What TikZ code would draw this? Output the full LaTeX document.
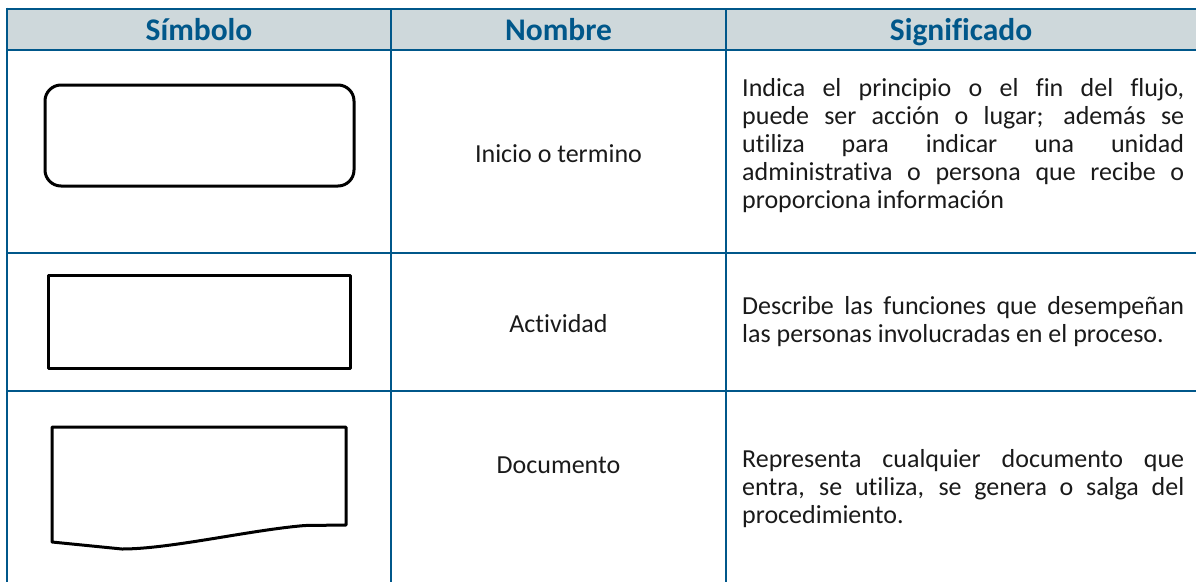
\documentclass[tikz,border=0pt]{standalone}
\usepackage{fontspec}
\setmainfont{Carlito}[Ligatures={NoCommon}]
\definecolor{tblue}{HTML}{00578A}
\definecolor{thead}{HTML}{CED8DB}
\definecolor{ttext}{HTML}{1A1A1A}
\newcommand{\nohyph}{\hyphenpenalty=10000\relax\exhyphenpenalty=10000\relax}
\tikzset{
  grid/.style={draw=tblue, line width=2.8pt},
  symb/.style={draw=black, line width=3pt, line join=round},
  headtxt/.style={font=\bfseries\fontsize{31.5}{34}\selectfont, text=tblue, inner sep=0pt, anchor=base},
  nametxt/.style={font=\fontsize{26}{28}\selectfont, text=ttext, inner sep=0pt, anchor=base},
  desctxt/.style={font=\fontsize{26}{28.2}\selectfont, text=ttext, inner sep=0pt, anchor=base west, text width=442pt, align=justify}
}
\begin{document}
\begin{tikzpicture}[x=1pt,y=-1pt]
\useasboundingbox (0,0) rectangle (1196,582);
\fill[thead] (7,9) rectangle (1196,50);
% grid lines
\draw[grid] (7,9) -- (1196,9);
\draw[grid] (7,50) -- (1196,50);
\draw[grid] (7,253) -- (1196,253);
\draw[grid] (7,391) -- (1196,391);
\draw[grid] (7,7.6) -- (7,582);
\draw[grid] (391,9) -- (391,582);
\draw[grid] (726,9) -- (726,582);
% headers
\node[headtxt] (h1) at (199,40.5) {Símbolo};
\node[headtxt] (h2) at (558.5,40.5) {Nombre};
\node[headtxt] (h3) at (961,40.5) {Significado};
% symbols
\draw[symb, rounded corners=16pt] (45,85) rectangle (354,186);
\draw[symb] (48,275) rectangle (350,368);
\draw[symb] (52,427) -- (346,427) -- (346,525) -- (305,525.5)
  .. controls (250,530) and (170,549) .. (122,549) -- (52,542) -- cycle;
% names
\node[nametxt] (n1) at (558.5,162) {Inicio o termino};
\node[nametxt] (n2) at (558.5,332.5) {Actividad};
\node[nametxt] (n3) at (558.5,473) {Documento};
% descriptions
\node[desctxt] (d1) at (742,96) {\nohyph Indica el principio o el fin del flujo,\linebreak puede ser acción o lugar; además se\linebreak utiliza para indicar una unidad\linebreak administrativa o persona que recibe o\linebreak proporciona información};
\node[desctxt] (d2) at (742,314) {\nohyph Describe las funciones que desempeñan\linebreak las personas involucradas en el proceso.};
\node[desctxt] (d3) at (742,467) {\nohyph Representa cualquier documento que\linebreak entra, se utiliza, se genera o salga del\linebreak procedimiento.};
\end{tikzpicture}
\end{document}
